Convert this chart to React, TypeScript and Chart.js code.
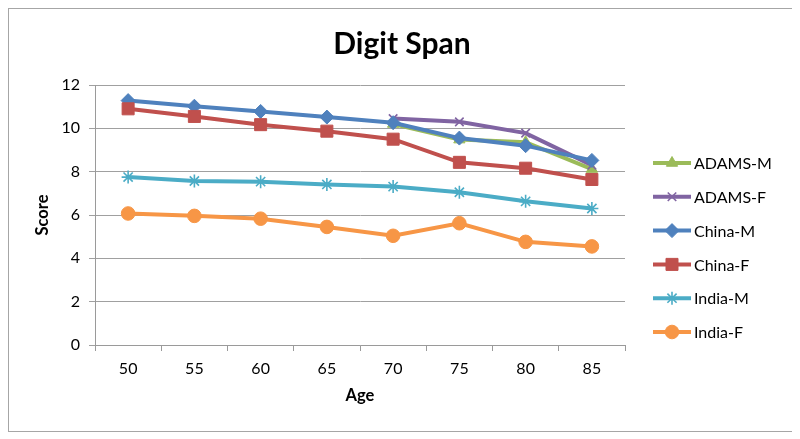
import React, { useEffect, useRef } from 'react';
import { Chart, registerables } from 'chart.js';
import { drawPoint } from 'chart.js/helpers';

Chart.register(...registerables);

const chartTitle = 'Digit Span';
const xTitle = 'Age';
const yTitle = 'Score';
const ages = ['50', '55', '60', '65', '70', '75', '80', '85'];
const adamsM = [null, null, null, null, 10.2, 9.48, 9.36, 8.12];
const adamsF = [null, null, null, null, 10.45, 10.3, 9.78, 8.3];
const chinaM = [11.28, 11.02, 10.78, 10.52, 10.26, 9.55, 9.2, 8.52];
const chinaF = [10.9, 10.55, 10.17, 9.87, 9.5, 8.43, 8.16, 7.64];
const indiaM = [7.75, 7.57, 7.54, 7.41, 7.31, 7.05, 6.63, 6.3];
const indiaF = [6.07, 5.96, 5.83, 5.45, 5.04, 5.62, 4.76, 4.55];

const seriesNames = ['ADAMS-M', 'ADAMS-F', 'China-M', 'China-F', 'India-M', 'India-F'];
const seriesData = [adamsM, adamsF, chinaM, chinaF, indiaM, indiaF];
const seriesColors = ['#9BBB59', '#8064A2', '#4F81BD', '#C0504D', '#4BACC6', '#F79646'];
const seriesMarkers = ['triangle', 'crossRot', 'rectRot', 'rect', 'star', 'circle'];
const markerRadius = [6.5, 6, 7, 8.5, 6.5, 6.8];

const FONT = 'Lato, Carlito, Calibri, "Noto Sans", sans-serif';

const titleAndLegendPlugin = {
  id: 'excelTitleLegend',
  afterDraw(chart: any) {
    const ctx = chart.ctx;
    const right = chart.chartArea.right;
    const top = chart.chartArea.top;
    ctx.save();
    // chart title, centred on the whole canvas
    ctx.fillStyle = '#000';
    ctx.font = 'bold 30px ' + FONT;
    ctx.textAlign = 'center';
    ctx.textBaseline = 'middle';
    ctx.fillText(chartTitle, chart.width / 2, 35);
    // legend
    seriesNames.forEach((name, i) => {
      const y = top + 78 + i * 33.8;
      const color = seriesColors[i];
      ctx.strokeStyle = color;
      ctx.lineWidth = 4;
      ctx.lineCap = 'butt';
      ctx.beginPath();
      ctx.moveTo(right + 28, y);
      ctx.lineTo(right + 66, y);
      ctx.stroke();
      const hollow = seriesMarkers[i] === 'crossRot' || seriesMarkers[i] === 'star';
      ctx.fillStyle = color;
      ctx.strokeStyle = color;
      ctx.lineWidth = hollow ? 1.6 : 1;
      drawPoint(ctx, { pointStyle: seriesMarkers[i], radius: markerRadius[i], rotation: 0, borderWidth: hollow ? 1.6 : 1 }, right + 47, y);
      ctx.fillStyle = '#000';
      ctx.font = '16px ' + FONT;
      ctx.textBaseline = 'middle';
      ctx.textAlign = 'left';
      ctx.fillText(name, right + 69, y + 1);
    });
    ctx.restore();
  },
};

export default function App() {
  const ref = useRef<HTMLCanvasElement>(null);
  useEffect(() => {
    if (!ref.current) return;
    const datasets = seriesNames.map((name, i) => {
      const hollow = seriesMarkers[i] === 'crossRot' || seriesMarkers[i] === 'star';
      return {
        label: name,
        data: seriesData[i],
        borderColor: seriesColors[i],
        backgroundColor: seriesColors[i],
        borderWidth: 4,
        pointStyle: seriesMarkers[i],
        pointRadius: markerRadius[i],
        pointBorderWidth: hollow ? 1.6 : 1,
        pointBackgroundColor: seriesColors[i],
        pointBorderColor: seriesColors[i],
        tension: 0,
        order: seriesNames.length - i,
      };
    });
    const chart = new Chart(ref.current, {
      type: 'line',
      data: { labels: ages, datasets },
      options: {
        responsive: false,
        animation: false,
        layout: { padding: { left: 0, right: 170, top: 76, bottom: 0 } },
        plugins: {
          legend: { display: false },
          tooltip: { enabled: false },
          title: { display: false },
        },
        scales: {
          x: {
            type: 'category',
            offset: true,
            grid: { display: true, drawOnChartArea: false, offset: true, tickLength: 6, color: '#9a9a9a' },
            border: { display: true, color: '#9a9a9a', width: 1 },
            ticks: { color: '#000', font: { family: FONT, size: 16 }, padding: 8, maxRotation: 0 },
            title: {
              display: true,
              text: xTitle,
              color: '#000',
              font: { family: FONT, size: 16.5, weight: 'bold' },
              padding: { top: 0, bottom: 25 },
            },
            afterFit: (scale: any) => { scale.height = 86; },
          },
          y: {
            min: 0,
            max: 12,
            ticks: { stepSize: 2, color: '#000', font: { family: FONT, size: 16 }, padding: 9 },
            grid: { color: '#a0a0a0', tickLength: 6, lineWidth: 1 },
            border: { display: true, color: '#9a9a9a', width: 1 },
            title: {
              display: true,
              text: yTitle,
              color: '#000',
              font: { family: FONT, size: 16.5, weight: 'bold' },
              padding: { top: 24, bottom: 0 },
            },
            afterFit: (scale: any) => { scale.width = 86; },
          },
        },
      },
      plugins: [titleAndLegendPlugin],
    });
    return () => chart.destroy();
  }, []);
  return (
    <div style={{ width: 786, height: 422, border: '1px solid #a6a6a6', background: '#fff' }}>
      <canvas ref={ref} width={786} height={422} style={{ display: 'block', width: 786, height: 422 }} />
    </div>
  );
}
